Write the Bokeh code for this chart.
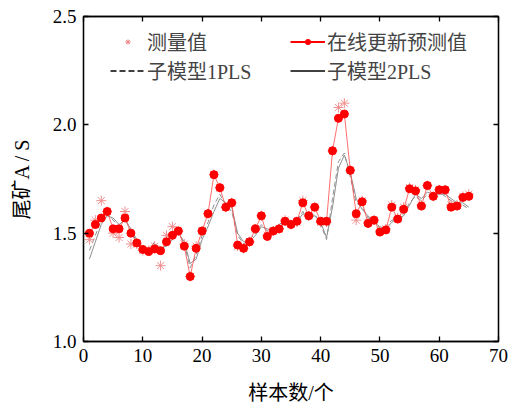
from bokeh.plotting import figure
from bokeh.models import (ColumnDataSource, Legend, LegendItem, LinearAxis,
                          FixedTicker, NumeralTickFormatter, Range1d)
from bokeh.embed import file_html
from bokeh.resources import INLINE

# ---------------- data ----------------
samples = list(range(1, 66))
measured = [1.47, 1.56, 1.65, 1.60, 1.50, 1.48, 1.60, 1.45, 1.45, 1.42,
            1.42, 1.44, 1.35, 1.49, 1.53, 1.51, 1.45, 1.30, 1.44, 1.51,
            1.59, 1.77, 1.71, 1.62, 1.64, 1.44, 1.43, 1.46, 1.52, 1.58,
            1.49, 1.51, 1.52, 1.56, 1.54, 1.55, 1.65, 1.58, 1.62, 1.55,
            1.55, 1.88, 2.08, 2.10, 1.79, 1.56, 1.65, 1.55, 1.56, 1.51,
            1.52, 1.63, 1.57, 1.62, 1.71, 1.70, 1.63, 1.72, 1.67, 1.70,
            1.70, 1.63, 1.63, 1.67, 1.68]
online_pred = [1.50, 1.54, 1.57, 1.60, 1.52, 1.52, 1.57, 1.50, 1.455, 1.425,
               1.415, 1.427, 1.419, 1.46, 1.49, 1.51, 1.44, 1.30, 1.43, 1.51,
               1.59, 1.77, 1.71, 1.62, 1.64, 1.445, 1.43, 1.46, 1.52, 1.58,
               1.485, 1.51, 1.52, 1.555, 1.54, 1.555, 1.64, 1.58, 1.62, 1.555,
               1.555, 1.88, 2.03, 2.05, 1.79, 1.59, 1.645, 1.545, 1.56, 1.505,
               1.515, 1.62, 1.565, 1.61, 1.705, 1.695, 1.625, 1.72, 1.67, 1.70,
               1.70, 1.62, 1.625, 1.665, 1.67]
pls1 = [1.42, 1.49, 1.56, 1.59, 1.56, 1.53, 1.57, 1.51, 1.46, 1.41,
        1.42, 1.46, 1.42, 1.45, 1.48, 1.51, 1.45, 1.34, 1.40, 1.49,
        1.55, 1.63, 1.68, 1.63, 1.60, 1.49, 1.45, 1.47, 1.50, 1.54,
        1.51, 1.52, 1.54, 1.56, 1.54, 1.56, 1.60, 1.56, 1.59, 1.54,
        1.47, 1.66, 1.83, 1.87, 1.76, 1.64, 1.62, 1.57, 1.56, 1.52,
        1.53, 1.56, 1.56, 1.59, 1.64, 1.67, 1.65, 1.68, 1.67, 1.69,
        1.67, 1.65, 1.63, 1.63, 1.61]
pls2 = [1.38, 1.46, 1.54, 1.58, 1.57, 1.54, 1.56, 1.52, 1.47, 1.43,
        1.42, 1.45, 1.43, 1.44, 1.47, 1.50, 1.46, 1.36, 1.38, 1.47,
        1.53, 1.60, 1.66, 1.64, 1.62, 1.50, 1.46, 1.46, 1.49, 1.53,
        1.52, 1.51, 1.53, 1.55, 1.55, 1.55, 1.59, 1.57, 1.58, 1.55,
        1.48, 1.62, 1.80, 1.86, 1.78, 1.66, 1.61, 1.58, 1.55, 1.53,
        1.52, 1.55, 1.57, 1.58, 1.63, 1.68, 1.66, 1.69, 1.68, 1.68,
        1.68, 1.66, 1.64, 1.64, 1.62]
x_ticks = [0, 10, 20, 30, 40, 50, 60, 70]
y_ticks = [1.0, 1.5, 2.0, 2.5]

labels = ["测量值", "在线更新预测值", "子模型1PLS", "子模型2PLS"]
x_title = "样本数/个"
y_title = "尾矿A / S"

FONT = "Liberation Serif, Noto Sans CJK SC"
NAN = float("nan")

src = ColumnDataSource(dict(x=samples, meas=measured, pred=online_pred,
                            p1=pls1, p2=pls2))
proxy = ColumnDataSource(dict(x=[NAN], y=[NAN]))

p = figure(width=510, height=406, output_backend="svg", toolbar_location=None,
           x_range=Range1d(0, 70), y_range=Range1d(1.0, 2.5),
           min_border_left=83, min_border_top=16, min_border_right=12,
           min_border_bottom=64)
p.background_fill_color = "white"
p.border_fill_color = "white"
p.outline_line_color = "black"
p.outline_line_width = 1.3
p.xgrid.visible = False
p.ygrid.visible = False

# sub-model lines (grey)
p.line("x", "p1", source=src, line_color="#8f8f8f", line_width=1,
       line_dash="5 3")
p.line("x", "p2", source=src, line_color="#8f8f8f", line_width=1)
# measured
p.scatter("x", "meas", source=src, marker="asterisk", size=10,
          line_color="#f09090", line_width=1)
# online prediction
p.line("x", "pred", source=src, line_color="#ff4a4a", line_width=0.8)
p.scatter("x", "pred", source=src, marker="circle", size=8,
          fill_color="#ff0000", line_color="#ff0000")

# legend proxies
lg_ast = p.scatter("x", "y", source=proxy, marker="asterisk", size=7,
                   line_color="#f08080", line_width=1)
lg_red_l = p.line("x", "y", source=proxy, line_color="#ff0000", line_width=2)
lg_red_d = p.scatter("x", "y", source=proxy, marker="circle", size=6,
                     fill_color="#ff0000", line_color="#ff0000")
lg_d = p.line("x", "y", source=proxy, line_color="black", line_width=1.5,
              line_dash="6 3")
lg_s = p.line("x", "y", source=proxy, line_color="black", line_width=1.5)

def make_legend(items, x0):
    return Legend(items=items, orientation="vertical",
                  location=(x0, 256), margin=0, padding=0, spacing=-6,
                  glyph_width=35, glyph_height=13, label_standoff=2,
                  label_text_font=FONT, label_text_font_size="20px",
                  background_fill_alpha=0, border_line_alpha=0)

leg1 = make_legend([LegendItem(label=labels[0], renderers=[lg_ast]),
                    LegendItem(label=labels[2], renderers=[lg_d])], 27)
leg2 = make_legend([LegendItem(label=labels[1], renderers=[lg_red_l, lg_red_d]),
                    LegendItem(label=labels[3], renderers=[lg_s])], 207)
p.add_layout(leg1, "center")
p.add_layout(leg2, "center")

# axes
for ax in (p.xaxis[0], p.yaxis[0]):
    ax.major_tick_in = 5
    ax.major_tick_out = 0
    ax.minor_tick_line_color = None
    ax.axis_line_color = "black"
    ax.axis_line_width = 1.3
    ax.major_tick_line_width = 1.3
    ax.major_label_text_font = FONT
    ax.major_label_text_font_size = "19px"
    ax.major_label_text_color = "black"
    ax.axis_label_text_font = FONT
    ax.axis_label_text_font_size = "20px"
    ax.axis_label_text_font_style = "normal"
    ax.axis_label_text_color = "black"

p.xaxis[0].ticker = FixedTicker(ticks=x_ticks)
p.yaxis[0].ticker = FixedTicker(ticks=y_ticks)
p.yaxis[0].formatter = NumeralTickFormatter(format="0.0")
p.xaxis[0].axis_label = x_title
p.yaxis[0].axis_label = y_title
p.xaxis[0].major_label_standoff = 7
p.yaxis[0].major_label_standoff = 7
p.xaxis[0].axis_label_standoff = 17
p.yaxis[0].axis_label_standoff = 17

top = LinearAxis(ticker=FixedTicker(ticks=x_ticks))
top.major_label_overrides = {t: "" for t in x_ticks}
right = LinearAxis(ticker=FixedTicker(ticks=y_ticks))
right.major_label_overrides = {t: "" for t in y_ticks}
for ax in (top, right):
    ax.major_tick_in = 5
    ax.major_tick_out = 0
    ax.minor_tick_line_color = None
    ax.major_label_standoff = 0
    ax.axis_line_width = 1.3
    ax.major_tick_line_width = 1.3
p.add_layout(top, "above")
p.add_layout(right, "right")

open("out.html", "w").write(file_html(p, INLINE))
